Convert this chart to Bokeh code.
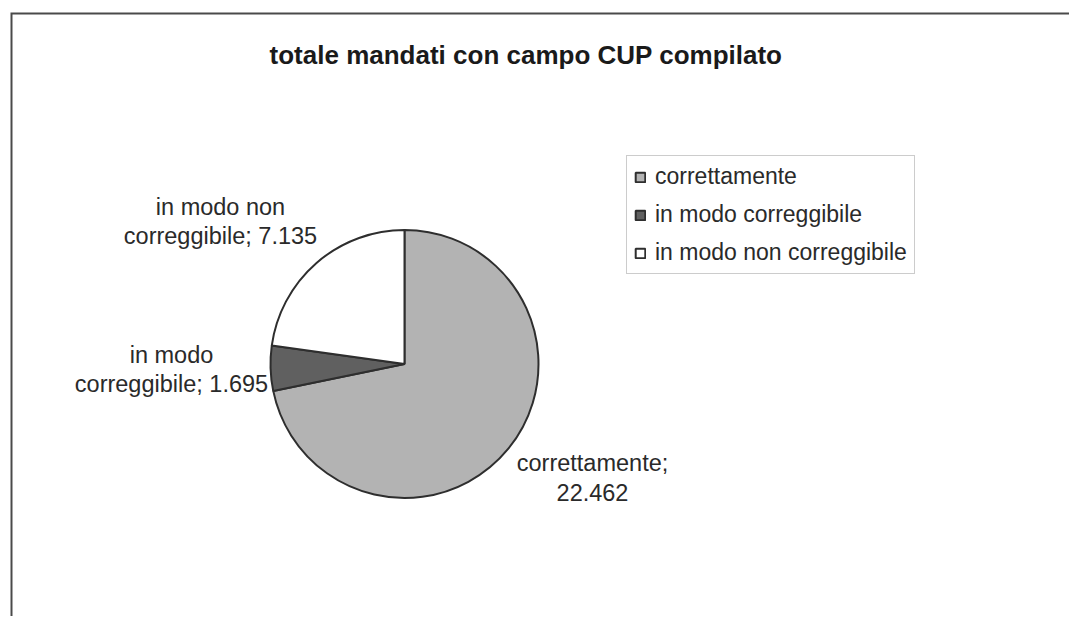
import math
from bokeh.plotting import figure
from bokeh.models import ColumnDataSource, Range1d, Legend, LegendItem
from bokeh.core.properties import value
from bokeh.embed import file_html
from bokeh.resources import INLINE

# ---- data ----
title_text = "totale mandati con campo CUP compilato"
categories = ["correttamente", "in modo correggibile", "in modo non correggibile"]
values = [22462, 1695, 7135]
colors = ["#b3b3b3", "#606060", "#ffffff"]
label_break_words = [1, 2, 3]  # words on the first line of each slice label

W, H = 1069, 616
FONT = value("Liberation Sans")
TEXT_DY = 8  # correction: rendered text baseline sits lower than requested

def fmt(v):
    return f"{v:,}".replace(",", ".")

total = sum(values)
starts, ends = [], []
acc = 0.0
for v in values:
    starts.append(math.pi / 2 - 2 * math.pi * acc / total)
    acc += v
    ends.append(math.pi / 2 - 2 * math.pi * acc / total)

p = figure(width=W, height=H, x_range=Range1d(0, W), y_range=Range1d(0, H),
           output_backend="svg", toolbar_location=None,
           x_axis_location=None, y_axis_location=None, min_border=0)
p.grid.visible = False
p.outline_line_color = None
p.background_fill_color = "white"
p.border_fill_color = "white"

def py(Y):  # page y -> data y
    return H - Y

def px(X):
    return X

# chart frame (only top and left edges visible)
p.line(x=[px(11), px(11), px(W + 2)], y=[py(700), py(13), py(13)],
       line_color="#4a4a4a", line_width=2, line_join="miter")

# pie
cx, cy, r = px(404), py(363.5), 134
src = ColumnDataSource(dict(start=starts, end=ends, color=colors, cat=categories))
wr = p.wedge(x=cx, y=cy, radius=r, radius_units="screen", start_angle="start", end_angle="end",
             direction="clock", fill_color="color", line_color="#2e2e2e", line_width=2,
             source=src)

# slice labels
label_pos = [  # (center x, first baseline y) in page pixels
    (592, 470),
    (171, 362),
    (220, 214),
]
line_gap = 29.5
lx, ly, lt = [], [], []
for cat, v, nb, (x0, y0) in zip(categories, values, label_break_words, label_pos):
    words = f"{cat}; {fmt(v)}".split(" ")
    l1 = " ".join(words[:nb])
    l2 = " ".join(words[nb:])
    lx += [px(x0), px(x0)]
    ly += [py(y0 - TEXT_DY), py(y0 + line_gap - TEXT_DY)]
    lt += [l1, l2]
p.text(x=lx, y=ly, text=lt, text_font=FONT, text_font_size="23.5px", text_color="#2a2a2a",
       text_align="center", text_baseline="alphabetic")

# title
p.text(x=[px(525.5)], y=[py(62 - TEXT_DY)], text=[title_text], text_font=FONT,
       text_font_size="26px", text_font_style="bold", text_color="#1a1a1a",
       text_align="center", text_baseline="alphabetic")

# legend
items = [LegendItem(label=c, renderers=[wr], index=i) for i, c in enumerate(categories)]
legend = Legend(items=items, location=(px(626), H - 274), orientation="vertical",
                label_text_font="Liberation Sans", label_text_font_size="23px",
                label_text_color="#2a2a2a", glyph_width=12, glyph_height=12,
                label_standoff=9, padding=7, spacing=11, margin=0,
                border_line_color="#9a9a9a", border_line_width=1,
                background_fill_color="white", background_fill_alpha=1.0)
p.add_layout(legend, "center")

open("out.html", "w").write(file_html(p, INLINE))
